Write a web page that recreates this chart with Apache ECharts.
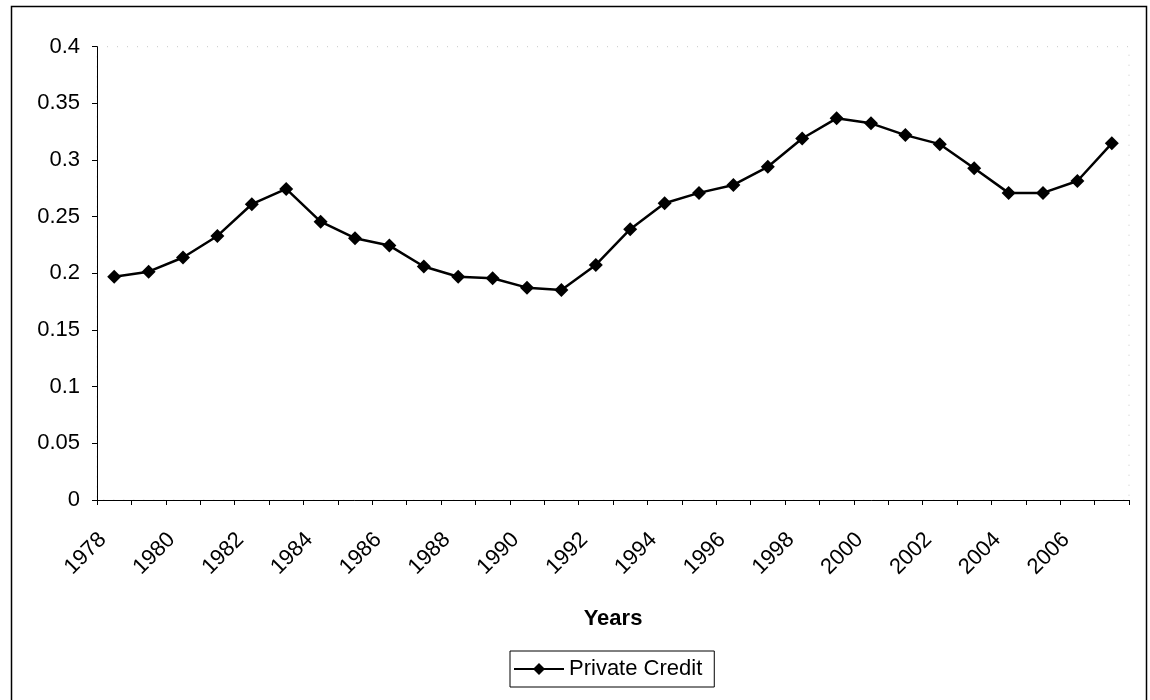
<!DOCTYPE html>
<html>
<head>
<meta charset="utf-8">
<script src="https://cdn.jsdelivr.net/npm/echarts@6/dist/echarts.min.js"></script>
<style>
html,body{margin:0;padding:0;background:#fff;}
#c{width:1150px;height:700px;}
</style>
</head>
<body>
<div id="c"></div>
<script>
const years = ['1978','1979','1980','1981','1982','1983','1984','1985','1986','1987',
  '1988','1989','1990','1991','1992','1993','1994','1995','1996','1997',
  '1998','1999','2000','2001','2002','2003','2004','2005','2006','2007'];
const privateCredit = [0.197, 0.2015, 0.214, 0.233, 0.261, 0.2745, 0.2456, 0.231, 0.2245, 0.206,
  0.197, 0.1957, 0.1874, 0.1853, 0.2074, 0.239, 0.2618, 0.271, 0.278, 0.294,
  0.319, 0.3368, 0.3324, 0.322, 0.314, 0.2927, 0.271, 0.271, 0.2815, 0.3147];
const seriesName = 'Private Credit';
const xName = 'Years';

const FONT = "'Liberation Sans', Arial, sans-serif";
const chart = echarts.init(document.getElementById('c'), null, {renderer: 'canvas'});
chart.setOption({
  backgroundColor: '#fff',
  animation: false,
  textStyle: {fontFamily: FONT, color: '#000'},
  graphic: [{
    type: 'rect',
    shape: {x: 11.5, y: 6.5, width: 1135, height: 700},
    style: {fill: 'none', stroke: '#000', lineWidth: 1.5},
    silent: true, z: -1
  }],
  grid: {
    left: 97, right: 21, top: 46.7, bottom: 200,
    show: true, borderColor: '#c8c8c8', borderWidth: 1, borderType: [1, 9]
  },
  legend: {
    data: [seriesName],
    left: 510, top: 651,
    orient: 'horizontal',
    itemWidth: 50, itemHeight: 15,
    borderColor: '#000', borderWidth: 1,
    padding: [5, 12, 5, 3],
    textStyle: {fontFamily: FONT, fontSize: 22, color: '#000', lineHeight: 26}
  },
  xAxis: {
    type: 'category',
    data: years,
    boundaryGap: true,
    name: xName,
    nameLocation: 'middle',
    nameGap: 108,
    nameTextStyle: {fontFamily: FONT, fontSize: 22, fontWeight: 'bold', color: '#000'},
    axisLine: {lineStyle: {color: '#000', width: 1}},
    axisTick: {show: true, interval: 0, length: 5, lineStyle: {color: '#000'}},
    axisLabel: {
      interval: 1, rotate: 45, margin: 25, fontSize: 22, color: '#000',
      fontFamily: FONT, padding: [0, 16, 0, 0]
    },
    splitLine: {show: false}
  },
  yAxis: {
    type: 'value',
    min: 0, max: 0.4, interval: 0.05,
    axisLine: {show: true, lineStyle: {color: '#000', width: 1}},
    axisTick: {show: true, length: 5, lineStyle: {color: '#000'}},
    axisLabel: {margin: 17, fontSize: 22, color: '#000', fontFamily: FONT},
    splitLine: {show: false}
  },
  series: [{
    name: seriesName,
    type: 'line',
    data: privateCredit,
    symbol: 'diamond',
    symbolSize: 14,
    lineStyle: {color: '#000', width: 2.5},
    itemStyle: {color: '#000'}
  }]
});
</script>
</body>
</html>
